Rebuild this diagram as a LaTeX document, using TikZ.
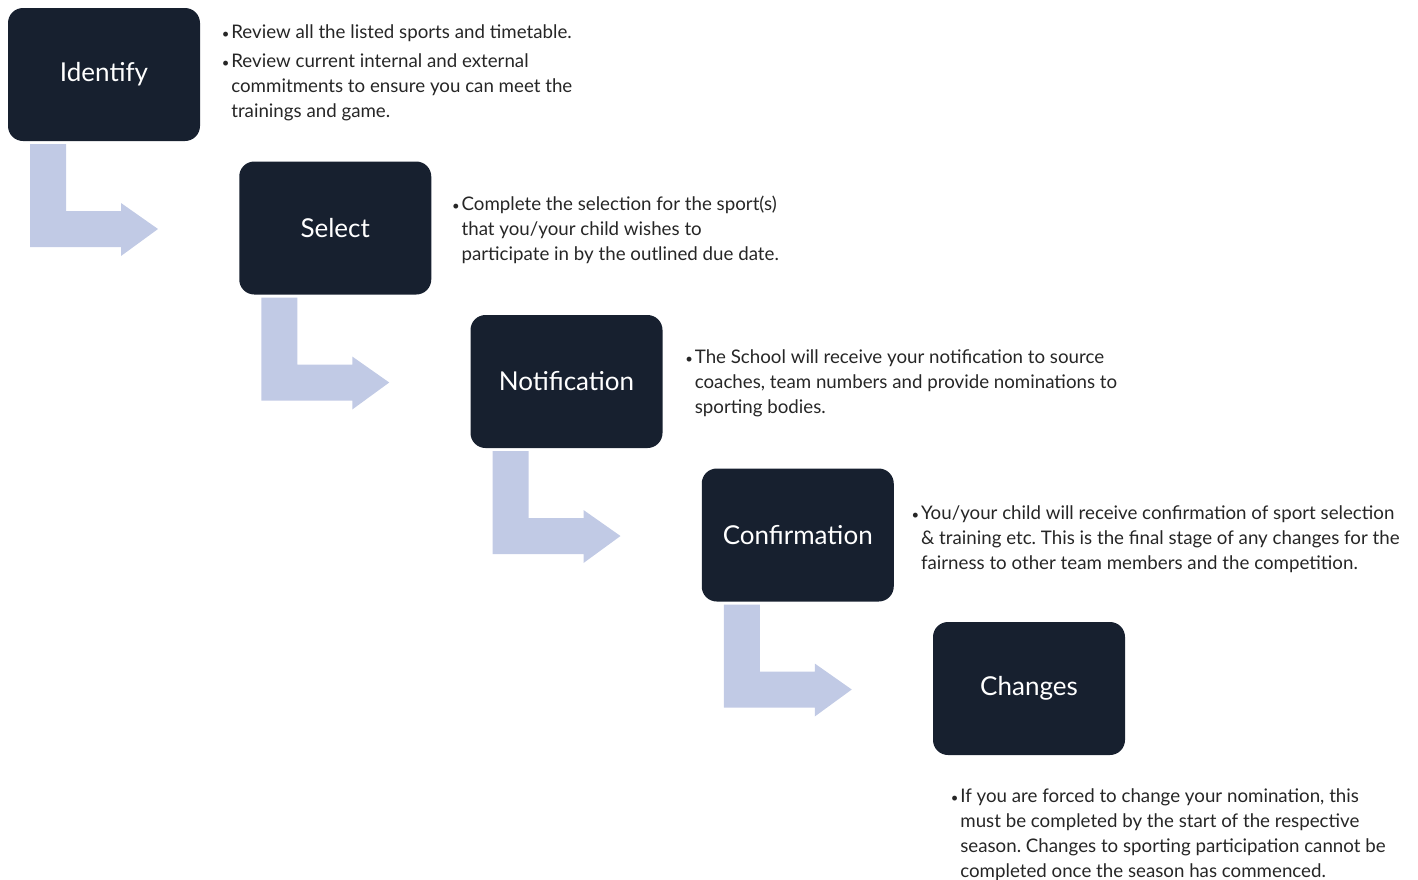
\documentclass[tikz,border=0pt]{standalone}
\usepackage{fontspec}
\setmainfont{Lato}
\usetikzlibrary{positioning}

\definecolor{boxnavy}{HTML}{17202F}
\definecolor{arrowblue}{HTML}{C1CAE5}
\definecolor{notegrey}{HTML}{262626}

\frenchspacing
\newcommand{\bul}{\makebox[0.19cm][l]{\scalebox{0.7}{\textbullet}}}
\newcommand{\ind}{\hspace*{0.19cm}}
\newcommand{\bendarrow}[1]{%
  \fill[arrowblue] ([shift={(0.44,-0.06)}]#1.south west) -- ++(0.72,0) -- ++(0,-1.34)
    -- ++(1.10,0) -- ++(0,0.16) -- ++(0.74,-0.52) -- ++(-0.74,-0.54) -- ++(0,0.18)
    -- ++(-1.82,0) -- cycle;}

\begin{document}
\begin{tikzpicture}[
                    stepbox/.style={rectangle, rounded corners=0.3cm, fill=boxnavy, text=white, minimum width=3.84cm, minimum height=2.66cm, font=\fontsize{14.8}{17}\selectfont, inner sep=0pt, outer sep=0pt},
                    notetext/.style={align=left, font=\fontsize{10.65}{14.2}\selectfont, text=notegrey, inner sep=0pt}
                ]
                    \useasboundingbox (0,0) rectangle (28.36,-17.6);
                    \node[stepbox, anchor=north west] (identify) at (0.16,-0.16) {Identify};
                    \node[stepbox] (select) [below right=0.41cm and 0.785cm of identify] {Select};
                    \node[stepbox] (notification) [below right=0.41cm and 0.785cm of select] {Notification};
                    \node[stepbox] (confirmation) [below right=0.41cm and 0.785cm of notification] {Confirmation};
                    \node[stepbox] (changes) [below right=0.41cm and 0.785cm of confirmation] {Changes};

                    \node[notetext] (identifytext) [right=0.43cm of identify, yshift=0.03cm] {\bul Review all the listed sports and timetable.\\[0.08cm]
                        \bul Review current internal and external\\
                        \ind commitments to ensure you can meet the\\
                        \ind trainings and game.};
                    \node[notetext] (selecttext) [right=0.41cm of select, yshift=-0.03cm] {\bul Complete the selection for the sport(s)\\
                        \ind that you/your child wishes to\\
                        \ind participate in by the outlined due date.};
                    \node[notetext] (notificationtext) [right=0.45cm of notification, yshift=-0.03cm] {\bul The School will receive your notification to source\\
                        \ind coaches, team numbers and provide nominations to\\
                        \ind sporting bodies.};
                    \node[notetext] (confirmationtext) [right=0.35cm of confirmation, yshift=-0.08cm] {\bul You/your child will receive confirmation of sport selection\\
                        \ind \& training etc. This is the final stage of any changes for the\\
                        \ind fairness to other team members and the competition.};
                    \node[notetext] (changestext) [below=0.66cm of changes.south west, anchor=north west, xshift=0.35cm] {\bul If you are forced to change your nomination, this\\
                        \ind must be completed by the start of the respective\\
                        \ind season. Changes to sporting participation cannot be\\
                        \ind completed once the season has commenced.};

                    \bendarrow{identify}
                    \bendarrow{select}
                    \bendarrow{notification}
                    \bendarrow{confirmation}
                \end{tikzpicture}
\end{document}
